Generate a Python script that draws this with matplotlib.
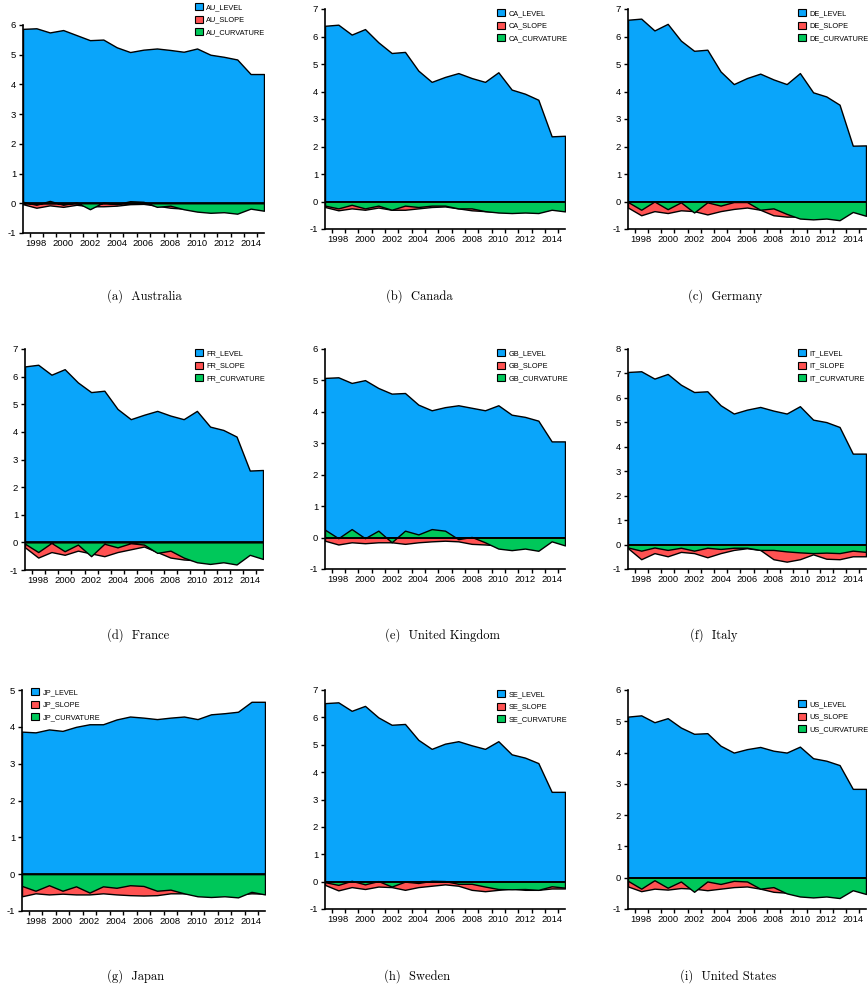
import matplotlib
matplotlib.use('Agg')
import matplotlib.pyplot as plt
from matplotlib.patches import Patch
from matplotlib.ticker import FixedLocator
from matplotlib.font_manager import FontProperties

plt.rcParams['font.family'] = ['Liberation Sans Narrow', 'DejaVu Sans Condensed', 'Liberation Sans', 'DejaVu Sans']
plt.rcParams['font.stretch'] = 'condensed'
plt.rcParams['axes.unicode_minus'] = False

# ---------------- data ----------------
YEARS = list(range(1997, 2016))

AU_LEVEL = [5.87, 5.89, 5.75, 5.83, 5.66, 5.49, 5.51, 5.25, 5.09, 5.17, 5.21, 5.16, 5.10, 5.21, 5.00, 4.93, 4.84, 4.35, 4.35]
AU_SLOPE = [-0.03, -0.15, -0.07, -0.12, -0.05, -0.10, -0.10, -0.08, -0.03, -0.02, -0.08, -0.15, -0.18, -0.18, -0.18, -0.18, -0.18, -0.12, -0.15]
AU_CURVATURE = [0.05, -0.05, 0.08, -0.05, 0.03, -0.20, 0.03, -0.03, 0.07, 0.05, -0.12, -0.08, -0.20, -0.28, -0.32, -0.30, -0.35, -0.18, -0.25]

CA_LEVEL = [6.39, 6.43, 6.07, 6.27, 5.79, 5.40, 5.44, 4.76, 4.35, 4.53, 4.67, 4.49, 4.35, 4.70, 4.07, 3.92, 3.70, 2.37, 2.39]
CA_SLOPE = [-0.20, -0.32, -0.25, -0.30, -0.22, -0.30, -0.30, -0.25, -0.20, -0.18, -0.25, -0.32, -0.35, -0.38, -0.38, -0.38, -0.38, -0.28, -0.30]
CA_CURVATURE = [-0.15, -0.25, -0.12, -0.25, -0.15, -0.30, -0.15, -0.20, -0.15, -0.15, -0.25, -0.25, -0.35, -0.40, -0.42, -0.40, -0.42, -0.30, -0.36]

DE_LEVEL = [6.61, 6.65, 6.22, 6.46, 5.85, 5.48, 5.52, 4.73, 4.27, 4.49, 4.65, 4.44, 4.27, 4.67, 3.97, 3.82, 3.52, 2.03, 2.04]
DE_SLOPE = [-0.22, -0.50, -0.35, -0.42, -0.32, -0.35, -0.47, -0.35, -0.27, -0.22, -0.30, -0.50, -0.55, -0.55, -0.55, -0.55, -0.55, -0.35, -0.45]
DE_CURVATURE = [-0.02, -0.30, 0.00, -0.28, -0.03, -0.40, -0.03, -0.15, -0.02, -0.02, -0.30, -0.25, -0.45, -0.62, -0.65, -0.62, -0.68, -0.38, -0.52]

FR_LEVEL = [6.37, 6.43, 6.07, 6.27, 5.79, 5.44, 5.49, 4.83, 4.46, 4.62, 4.76, 4.59, 4.46, 4.76, 4.19, 4.07, 3.83, 2.60, 2.62]
FR_SLOPE = [-0.18, -0.55, -0.35, -0.45, -0.30, -0.40, -0.50, -0.35, -0.25, -0.15, -0.35, -0.55, -0.62, -0.65, -0.65, -0.65, -0.65, -0.40, -0.50]
FR_CURVATURE = [-0.05, -0.35, -0.02, -0.32, -0.08, -0.50, -0.05, -0.18, -0.03, -0.08, -0.38, -0.30, -0.55, -0.72, -0.78, -0.72, -0.80, -0.45, -0.60]

GB_LEVEL = [5.08, 5.10, 4.92, 5.01, 4.76, 4.58, 4.60, 4.23, 4.05, 4.15, 4.21, 4.13, 4.05, 4.21, 3.91, 3.84, 3.72, 3.06, 3.06]
GB_SLOPE = [-0.10, -0.22, -0.15, -0.18, -0.15, -0.15, -0.20, -0.15, -0.12, -0.10, -0.12, -0.20, -0.22, -0.25, -0.25, -0.25, -0.25, -0.10, -0.20]
GB_CURVATURE = [0.25, -0.02, 0.27, -0.02, 0.22, -0.15, 0.22, 0.10, 0.27, 0.22, -0.05, 0.02, -0.15, -0.35, -0.40, -0.35, -0.42, -0.12, -0.25]

IT_LEVEL = [7.06, 7.09, 6.79, 6.98, 6.54, 6.24, 6.27, 5.70, 5.36, 5.52, 5.63, 5.48, 5.36, 5.66, 5.11, 5.01, 4.81, 3.72, 3.72]
IT_SLOPE = [-0.15, -0.60, -0.35, -0.48, -0.30, -0.35, -0.52, -0.35, -0.22, -0.15, -0.22, -0.60, -0.70, -0.60, -0.40, -0.58, -0.60, -0.48, -0.48]
IT_CURVATURE = [-0.12, -0.25, -0.12, -0.22, -0.13, -0.25, -0.13, -0.18, -0.13, -0.13, -0.22, -0.22, -0.28, -0.32, -0.35, -0.33, -0.35, -0.25, -0.30]

JP_LEVEL = [3.87, 3.85, 3.93, 3.89, 4.00, 4.07, 4.07, 4.20, 4.28, 4.25, 4.21, 4.25, 4.28, 4.21, 4.34, 4.37, 4.41, 4.68, 4.68]
JP_SLOPE = [-0.60, -0.52, -0.55, -0.53, -0.55, -0.55, -0.52, -0.55, -0.57, -0.58, -0.57, -0.52, -0.52, -0.55, -0.55, -0.55, -0.55, -0.52, -0.53]
JP_CURVATURE = [-0.32, -0.45, -0.30, -0.45, -0.33, -0.50, -0.33, -0.37, -0.30, -0.32, -0.45, -0.42, -0.52, -0.60, -0.62, -0.60, -0.63, -0.48, -0.55]

SE_LEVEL = [6.52, 6.55, 6.24, 6.42, 6.00, 5.73, 5.76, 5.18, 4.85, 5.04, 5.13, 4.98, 4.85, 5.13, 4.65, 4.53, 4.33, 3.28, 3.28]
SE_SLOPE = [-0.12, -0.32, -0.20, -0.27, -0.18, -0.20, -0.30, -0.20, -0.15, -0.10, -0.15, -0.30, -0.35, -0.30, -0.25, -0.30, -0.30, -0.25, -0.25]
SE_CURVATURE = [-0.02, -0.12, 0.03, -0.10, 0.02, -0.18, 0.00, -0.05, 0.03, 0.02, -0.08, -0.08, -0.18, -0.27, -0.28, -0.27, -0.30, -0.17, -0.22]

US_LEVEL = [5.15, 5.19, 4.97, 5.10, 4.80, 4.60, 4.62, 4.22, 4.00, 4.11, 4.18, 4.06, 4.00, 4.19, 3.82, 3.74, 3.60, 2.84, 2.84]
US_SLOPE = [-0.28, -0.43, -0.35, -0.38, -0.33, -0.35, -0.40, -0.35, -0.30, -0.28, -0.35, -0.45, -0.48, -0.50, -0.50, -0.50, -0.50, -0.35, -0.45]
US_CURVATURE = [-0.10, -0.35, -0.08, -0.32, -0.12, -0.45, -0.12, -0.20, -0.10, -0.12, -0.35, -0.30, -0.50, -0.60, -0.63, -0.60, -0.65, -0.40, -0.52]

CODES = ['AU', 'CA', 'DE', 'FR', 'GB', 'IT', 'JP', 'SE', 'US']
CAPTIONS = ['(a)  Australia', '(b)  Canada', '(c)  Germany', '(d)  France', '(e)  United Kingdom',
            '(f)  Italy', '(g)  Japan', '(h)  Sweden', '(i)  United States']
YMAX = [6, 7, 7, 7, 6, 8, 5, 7, 6]

DATA = {
    'AU': (AU_LEVEL, AU_SLOPE, AU_CURVATURE), 'CA': (CA_LEVEL, CA_SLOPE, CA_CURVATURE),
    'DE': (DE_LEVEL, DE_SLOPE, DE_CURVATURE), 'FR': (FR_LEVEL, FR_SLOPE, FR_CURVATURE),
    'GB': (GB_LEVEL, GB_SLOPE, GB_CURVATURE), 'IT': (IT_LEVEL, IT_SLOPE, IT_CURVATURE),
    'JP': (JP_LEVEL, JP_SLOPE, JP_CURVATURE), 'SE': (SE_LEVEL, SE_SLOPE, SE_CURVATURE),
    'US': (US_LEVEL, US_SLOPE, US_CURVATURE),
}

# ---------------- layout (pixels) ----------------
W, H = 868, 991
BOXES = [(23, 264, 25, 233), (325, 565, 9, 229), (628, 866, 9, 229),
         (25, 263, 349, 570), (325, 565, 349, 569), (628, 866, 349, 569),
         (22, 265, 690, 911), (325, 565, 690, 909), (628, 866, 690, 909)]
LEG = [(195, 3), (497, 9), (798, 9), (195, 349), (497, 349), (798, 349),
       (31, 688), (497, 690), (798, 700)]
CAP = [(107, 296), (386, 296), (688, 296), (107, 635), (385, 635), (690, 635),
       (107, 976), (384, 976), (680, 976)]

COLORS = ['#0AA5FA', '#FF5252', '#00C85A']
SUFFIX = ['LEVEL', 'SLOPE', 'CURVATURE']

fig = plt.figure(figsize=(W / 100, H / 100), dpi=100)

leg_prop = FontProperties(family=['Liberation Sans Narrow', 'DejaVu Sans Condensed', 'Liberation Sans', 'DejaVu Sans'],
                          stretch='condensed', size=5.3)

for i, code in enumerate(CODES):
    l, r, t, b = BOXES[i]
    ax = fig.add_axes([l / W, 1 - b / H, (r - l) / W, (b - t) / H])
    series = DATA[code]
    for vals, col in zip(series, COLORS):
        ax.fill_between(YEARS, 0, vals, facecolor=col, edgecolor='black', linewidth=1.0)
    ax.axhline(0, color='black', linewidth=1.3)
    ax.set_xlim(1997, 2015)
    ax.set_ylim(-1, YMAX[i])
    ax.set_yticks(range(-1, YMAX[i] + 1))
    ax.set_xticks(range(1998, 2015, 2))
    ax.xaxis.set_minor_locator(FixedLocator([y + 0.5 for y in range(1997, 2015)]))
    ax.tick_params(axis='x', which='major', length=0, labelsize=6.8, pad=4)
    ax.tick_params(axis='x', which='minor', length=3, width=1, direction='out')
    ax.tick_params(axis='y', length=3, width=1, direction='out', labelsize=6.8, pad=2)
    for s in ['top', 'right']:
        ax.spines[s].set_visible(False)
    for s in ['left', 'bottom']:
        ax.spines[s].set_linewidth(1.2)
    handles = [Patch(facecolor=c, edgecolor='black', linewidth=0.8) for c in COLORS]
    labels = [f'{code}_{s}' for s in SUFFIX]
    lx, ly = LEG[i]
    ax.legend(handles, labels, loc='upper left', bbox_to_anchor=(lx / W, 1 - ly / H),
              bbox_transform=fig.transFigure, frameon=False, prop=leg_prop,
              handlelength=1.1, handleheight=1.1, handletextpad=0.45,
              labelspacing=0.62, borderpad=0, borderaxespad=0)
    cx, cy = CAP[i]
    fig.text(cx / W, 1 - cy / H, CAPTIONS[i], family='cmr10', fontsize=9, ha='left', va='center')

fig.savefig('out.png', dpi=100)
